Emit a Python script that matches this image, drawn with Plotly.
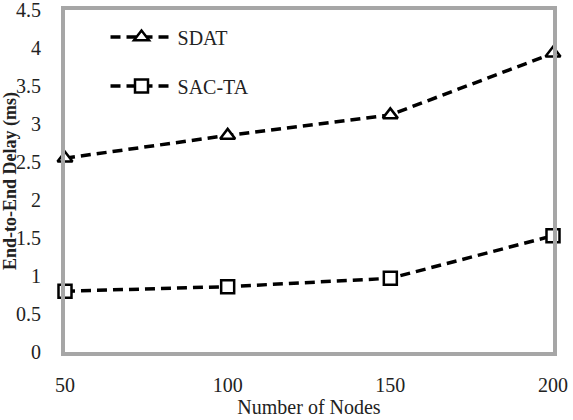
import plotly.graph_objects as go

nodes = [50, 100, 150, 200]
sdat = [2.55, 2.85, 3.12, 3.93]
sacta = [0.80, 0.86, 0.97, 1.53]
y_ticks = [0, 0.5, 1, 1.5, 2, 2.5, 3, 3.5, 4, 4.5]
y_labels = ["0", "0.5", "1", "1.5", "2", "2.5", "3", "3.5", "4", "4.5"]

FONT = "Liberation Serif, Times New Roman, serif"
DASH = "10px,6px"

fig = go.Figure()
fig.add_trace(go.Scatter(
    x=nodes, y=sdat, name="SDAT", mode="lines+markers", legendgroup="a",
    line=dict(color="black", width=3.5, dash=DASH),
    marker=dict(symbol="triangle-up", size=13, color="white",
                line=dict(color="black", width=2.5)),
    cliponaxis=False,
))
fig.add_trace(go.Scatter(
    x=nodes, y=sacta, name="SAC-TA", mode="lines+markers", legendgroup="b",
    line=dict(color="black", width=3.5, dash=DASH),
    marker=dict(symbol="square", size=13, color="white",
                line=dict(color="black", width=2.5)),
    cliponaxis=False,
))

fig.update_layout(
    width=573, height=420,
    margin=dict(l=65, r=20, t=10, b=68, autoexpand=False),
    paper_bgcolor="white", plot_bgcolor="white",
    font=dict(family=FONT, size=20, color="#222"),
    showlegend=True,
    legend=dict(x=0.083, y=0.978, xanchor="left", yanchor="top",
                bgcolor="rgba(0,0,0,0)", font=dict(size=20, family=FONT),
                traceorder="grouped", tracegroupgap=20, itemwidth=62),
    xaxis=dict(range=[50, 200], tickvals=nodes, ticktext=[str(n) for n in nodes],
               showgrid=False, zeroline=False, showline=True, mirror=True,
               automargin=False, ticklabeloverflow="allow",
               linecolor="#a6a6a6", linewidth=4, ticks="", ticklabelstandoff=12,
               tickfont=dict(size=20, family=FONT),
               title=dict(text="Number of Nodes", font=dict(size=20, family=FONT),
                          standoff=5)),
    yaxis=dict(range=[0, 4.5], tickvals=y_ticks, ticktext=y_labels,
               showgrid=False, zeroline=False, showline=True, mirror=True,
               automargin=False, ticklabeloverflow="allow",
               linecolor="#a6a6a6", linewidth=4, ticks="", ticklabelstandoff=16,
               tickfont=dict(size=20, family=FONT),
               title=dict(text="<b>End-to-End Delay (ms)</b>",
                          font=dict(size=18, family=FONT), standoff=0)),
)

fig.write_html("out.html")
